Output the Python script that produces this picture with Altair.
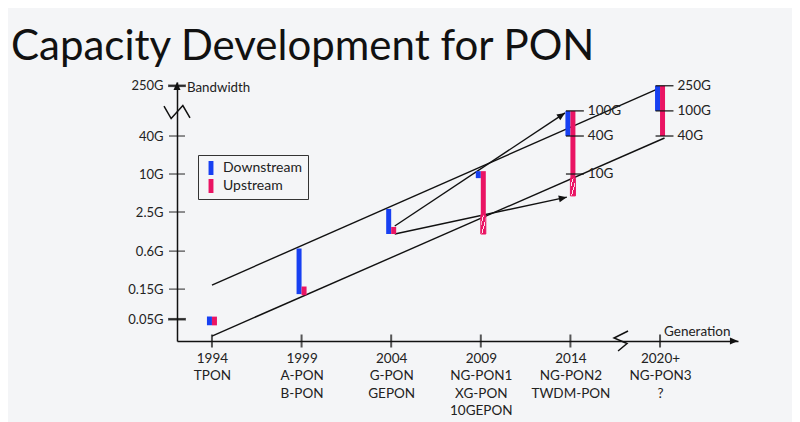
import json
import math
import altair as alt
import pandas as pd

# ---------------- data ----------------
GENERATIONS = ["1994", "1999", "2004", "2009", "2014", "2020+"]
STANDARDS = [["TPON"], ["A-PON", "B-PON"], ["G-PON", "GEPON"],
             ["NG-PON1", "XG-PON", "10GEPON"], ["NG-PON2", "TWDM-PON"], ["NG-PON3", "?"]]

Y_TICKS = [0.05, 0.15, 0.6, 2.5, 10, 40, 250]          # Gbit/s
BOLD_Y_TICKS = [0.05, 250]

DOWN_LOW = [0.04, 0.125, 1.12, 8.6, 40, 100]
DOWN_HIGH = [0.055, 0.66, 2.8, 11.1, 100, 250]
UP_LOW = [0.04, 0.12, 1.12, 2.24, 8.6, 40]
UP_HIGH = [0.055, 0.165, 1.45, 11.1, 100, 250]

HATCH_GEN = [3, 4]
HATCH_LOW = [1.12, 4.5]
HATCH_HIGH = [2.24, 8.6]

NOTE_GEN = [4, 4, 4, 5, 5, 5]
NOTE_VAL = [100, 40, 10, 250, 100, 40]
NOTE_TEXT = ["100G", "40G", "10G", "250G", "100G", "40G"]

TREND_X = [[0, 5.0], [0, 5.05]]
TREND_Y = [[0.174, 231], [0.0271, 37.2]]

ARROW_X = [[2.04, 3.94], [2.04, 3.96]]
ARROW_Y = [[1.5, 93], [1.12, 4.3]]

Y_BREAK = 96
X_BREAK = 4.565

# ---------------- layout / style ----------------
FONT = "Lato"
BLUE = "#1740f2"
PINK = "#ea1463"
INK = "#111111"
TXT = "#222222"

W, H = 561, 259
PAD = {"left": 169, "top": 74, "right": 54, "bottom": 81}
X_DOM = [-0.39, 5.87]
Y_DOM = [0.0226, 287]
BAR_PX = 5
BAR_W = BAR_PX * (X_DOM[1] - X_DOM[0]) / W


def px(v):
    return (v - X_DOM[0]) / (X_DOM[1] - X_DOM[0]) * W


def py(v):
    l0, l1 = math.log10(Y_DOM[0]), math.log10(Y_DOM[1])
    return H - (math.log10(v) - l0) / (l1 - l0) * H


def heading(x0, y0, x1, y1):
    dx = px(x1) - px(x0)
    dy = py(y1) - py(y0)
    return math.degrees(math.atan2(dx, -dy)) % 360


label_lines = [[g] + s for g, s in zip(GENERATIONS, STANDARDS)]
X_LABEL_EXPR = json.dumps(label_lines) + "[datum.value]"

XS = alt.Scale(domain=X_DOM, nice=False, zero=False)
YS = alt.Scale(type="log", domain=Y_DOM, nice=False)

XAXIS = alt.Axis(values=list(range(len(GENERATIONS))), labelExpr=X_LABEL_EXPR,
                 ticks=False, grid=False, domainColor=INK, domainWidth=1.5,
                 labelFont=FONT, labelFontSize=13.5, labelLineHeight=17.5,
                 labelPadding=10, labelColor=TXT, title=None,
                 labelOverlap=False, labelBound=False, labelFlush=False)
YAXIS = alt.Axis(values=Y_TICKS, format="~g", labelExpr="datum.label + 'G'",
                 ticks=False, grid=False, domainColor=INK, domainWidth=1.5,
                 labelFont=FONT, labelFontSize=13, labelPadding=14,
                 labelColor=TXT, title=None,
                 labelOverlap=False, labelBound=False, labelFlush=False)


def X(field="x"):
    return alt.X(f"{field}:Q", scale=XS, axis=XAXIS)


def Y(field="y"):
    return alt.Y(f"{field}:Q", scale=YS, axis=YAXIS)


# ---------------- tables ----------------
bar_rows = []
for i in range(len(GENERATIONS)):
    bar_rows.append({"x": i - BAR_W, "x2": i, "y": DOWN_LOW[i], "y2": DOWN_HIGH[i], "series": "Downstream"})
    bar_rows.append({"x": i, "x2": i + BAR_W, "y": UP_LOW[i], "y2": UP_HIGH[i], "series": "Upstream"})
bars_df = pd.DataFrame(bar_rows)

hatch_df = pd.DataFrame({"x": [g for g in HATCH_GEN], "x2": [g + BAR_W for g in HATCH_GEN],
                         "y": HATCH_LOW, "y2": HATCH_HIGH})

trend_rows = []
for k, (xs, ys) in enumerate(zip(TREND_X, TREND_Y)):
    for xv, yv in zip(xs, ys):
        trend_rows.append({"id": f"t{k}", "x": xv, "y": yv})
for k, (xs, ys) in enumerate(zip(ARROW_X, ARROW_Y)):
    for xv, yv in zip(xs, ys):
        trend_rows.append({"id": f"a{k}", "x": xv, "y": yv})
lines_df = pd.DataFrame(trend_rows)

head_rows = []
for xs, ys in zip(ARROW_X, ARROW_Y):
    head_rows.append({"x": xs[1], "y": ys[1], "angle": heading(xs[0], ys[0], xs[1], ys[1])})
head_rows.append({"x": X_DOM[1], "y": Y_DOM[0], "angle": 90})
head_rows.append({"x": X_DOM[0], "y": Y_DOM[1], "angle": 0})
heads_df = pd.DataFrame(head_rows)

yt_df = pd.DataFrame({"x": [X_DOM[0]] * len(Y_TICKS), "y": Y_TICKS,
                      "bold": [v in BOLD_Y_TICKS for v in Y_TICKS]})
xt_df = pd.DataFrame({"x": list(range(len(GENERATIONS))), "y": [Y_DOM[0]] * len(GENERATIONS)})

notes_df = pd.DataFrame({"x": [g - 0.05 for g in NOTE_GEN], "x2": [g + 0.15 for g in NOTE_GEN],
                         "y": NOTE_VAL, "text": NOTE_TEXT})

ARROW_PATH = "M0,0L0.5,1.15L-0.5,1.15Z"
YBREAK_PATH = "M-1,-0.45L-0.45,0.5L0.45,-0.5L1,0.45"
XBREAK_PATH = "M0.7,-1L-0.7,-0.3L0.6,0.25L-0.3,1"
LEG_PATH = "M-0.7,-2H0.7V2H-0.7Z"

# ---------------- layers ----------------
bars = alt.Chart(bars_df).mark_rect().encode(
    x=X(), x2="x2:Q", y=Y(), y2="y2:Q",
    color=alt.Color("series:N",
                    scale=alt.Scale(domain=["Downstream", "Upstream"], range=[BLUE, PINK]),
                    legend=alt.Legend(title=None, orient="none", legendX=21, legendY=73,
                                      direction="vertical", symbolType=LEG_PATH, symbolSize=49,
                                      symbolStrokeWidth=0, symbolOpacity=1,
                                      labelFont=FONT, labelFontSize=14, labelColor=TXT,
                                      labelOffset=5, padding=6, rowPadding=4,
                                      strokeColor="#333333")),
)

stripes = alt.Gradient(gradient="linear", x1=0, y1=0, x2=1, y2=1, stops=[
    alt.GradientStop(offset=0, color=PINK), alt.GradientStop(offset=0.22, color=PINK),
    alt.GradientStop(offset=0.22, color="#fbe6ee"), alt.GradientStop(offset=0.32, color="#fbe6ee"),
    alt.GradientStop(offset=0.32, color=PINK), alt.GradientStop(offset=0.55, color=PINK),
    alt.GradientStop(offset=0.55, color="#fbe6ee"), alt.GradientStop(offset=0.65, color="#fbe6ee"),
    alt.GradientStop(offset=0.65, color=PINK), alt.GradientStop(offset=1, color=PINK)])
hatch = alt.Chart(hatch_df).mark_rect(fill=stripes, stroke=PINK, strokeWidth=1).encode(
    x=X(), x2="x2:Q", y=Y(), y2="y2:Q")

lines = alt.Chart(lines_df).mark_line(color=INK, strokeWidth=1.4).encode(
    x=X(), y=Y(), detail="id:N")

heads = alt.Chart(heads_df).mark_point(shape=ARROW_PATH, filled=True, size=196,
                                       color=INK, opacity=1, strokeWidth=0).encode(
    x=X(), y=Y(), angle=alt.Angle("angle:Q", scale=None))

yticks = alt.Chart(yt_df).mark_tick(orient="horizontal", size=16, thickness=1.3, color=INK).encode(
    x=X(), y=Y())
yticks_bold = alt.Chart(yt_df).transform_filter("datum.bold").mark_tick(
    orient="horizontal", size=18, thickness=2.6, color=INK).encode(x=X(), y=Y())
xticks = alt.Chart(xt_df).mark_tick(orient="vertical", size=13, thickness=2, color=INK).encode(
    x=X(), y=Y())

ybreak = alt.Chart(pd.DataFrame({"x": [X_DOM[0]], "y": [Y_BREAK]})).mark_point(
    shape=YBREAK_PATH, filled=False, size=676, color=INK, strokeWidth=1.5, opacity=1).encode(
    x=X(), y=Y())
xbreak = alt.Chart(pd.DataFrame({"x": [X_BREAK], "y": [Y_DOM[0]]})).mark_point(
    shape=XBREAK_PATH, filled=False, size=400, color=INK, strokeWidth=1.5, opacity=1).encode(
    x=X(), y=Y())

note_rules = alt.Chart(notes_df).mark_rule(color=INK, strokeWidth=1.2).encode(
    x=X(), x2="x2:Q", y=Y())
note_text = alt.Chart(notes_df).mark_text(align="left", baseline="middle", dx=4,
                                          font=FONT, fontSize=13.5, color=TXT).encode(
    x=X("x2"), y=Y(), text="text:N")

bw_text = alt.Chart(pd.DataFrame({"x": [X_DOM[0]], "y": [250], "t": ["Bandwidth"]})).mark_text(
    align="left", baseline="middle", dx=10, dy=2, font=FONT, fontSize=13.3, color=TXT).encode(
    x=X(), y=Y(), text="t:N")
gen_text = alt.Chart(pd.DataFrame({"x": [5], "y": [Y_DOM[0]], "t": ["Generation"]})).mark_text(
    align="left", baseline="bottom", dx=4, dy=-2, font=FONT, fontSize=13.5, color=TXT).encode(
    x=X(), y=Y(), text="t:N")

chart = alt.layer(
    lines, bars, hatch, note_rules, note_text, heads, yticks, yticks_bold, xticks,
    ybreak, xbreak, bw_text, gen_text,
).properties(
    width=W, height=H, padding=PAD,
    autosize=alt.AutoSizeParams(type="none"),
    background="#f4f5f7",
    title=alt.TitleParams("Capacity Development for PON", anchor="start", frame="group",
                          dx=-166, offset=10, font=FONT, fontSize=42, fontWeight="normal",
                          color=INK),
).configure_view(stroke=None)

chart.save("out.html", embed_options={"renderer": "svg", "actions": False})
